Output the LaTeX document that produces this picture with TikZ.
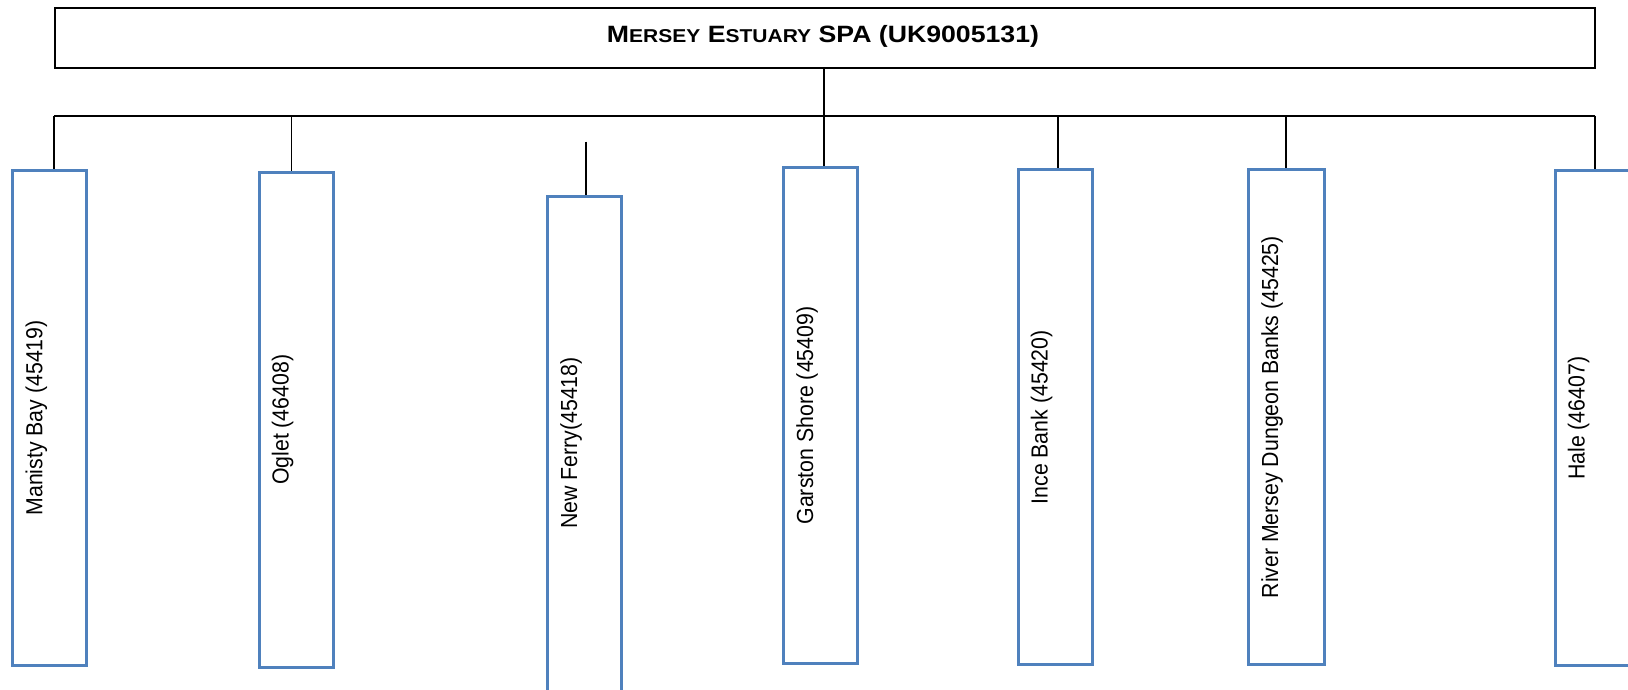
\documentclass[tikz,border=0pt]{standalone}
\usepackage{fontspec}
\setmainfont{Liberation Sans}
\definecolor{siteblue}{RGB}{79,129,189}
\newcommand{\mysmallcap}[1]{{\fontsize{18.6}{20}\selectfont #1}}
\tikzset{
  spabox/.style={draw=black, line width=2pt, inner sep=0pt},
  sitebox/.style={draw=siteblue, line width=3pt, inner sep=0pt, minimum width=74pt, minimum height=495pt},
  lbl/.style={rotate=90, anchor=base, inner sep=0pt, font=\fontsize{21.3}{25}\selectfont},
  conn/.style={draw=black, line width=1.5pt},
  mainbar/.style={draw=black, line width=2pt},
}
\begin{document}
\begin{tikzpicture}[x=1pt,y=-1pt]
\useasboundingbox (0,0) rectangle (1628,690);
% top box
\node[spabox, minimum width=1539.5pt, minimum height=59.5pt] (spa) at (824.75,38.25) {};
\node[anchor=base, inner sep=0pt, font=\fontsize{23.6}{26}\selectfont\bfseries] (title) at (823,42.8)
  {\scalebox{1.13}[1]{M\mysmallcap{ERSEY} E\mysmallcap{STUARY} SPA (UK9005131)}};
% site boxes
\node[sitebox] (m1) at (49.85,417.85) {};
\node[sitebox] (m2) at (296,419.85) {};
\node[sitebox] (m3) at (584,443.6) {};
\node[sitebox] (m4) at (820.5,415.5) {};
\node[sitebox] (m5) at (1055,417.35) {};
\node[sitebox, minimum width=76pt] (m6) at (1286.5,417.2) {};
\node[sitebox] (m7) at (1592,418.35) {};
% labels
\node[lbl] (t1) at (42.4,417.85) {\scalebox{1}[1.09]{Manisty Bay (45419)}};
\node[lbl] (t2) at (288.5,419.85) {\scalebox{1}[1.09]{Oglet (46408)}};
\node[lbl] (t3) at (577,443) {\scalebox{1}[1.09]{New Ferry(45418)}};
\node[lbl] (t4) at (813,415.5) {\scalebox{1}[1.09]{Garston Shore (45409)}};
\node[lbl] (t5) at (1047.6,417.35) {\scalebox{1}[1.09]{Ince Bank (45420)}};
\node[lbl] (t6) at (1278,417.2) {\scalebox{1}[1.09]{River Mersey Dungeon Banks (45425)}};
\node[lbl] (t7) at (1584.5,418.35) {\scalebox{1}[1.09]{Hale (46407)}};
% connectors
\coordinate (j) at (824,115.7);
\coordinate (bl) at (54,115.7);
\coordinate (br) at (1595,115.7);
\coordinate (d2) at (291.7,115.7);
\coordinate (f3) at (586,141.7);
\coordinate (d5) at (1058,115.7);
\coordinate (d6) at (1286,115.7);
\draw[conn] (j |- spa.south) -- (j);
\draw[mainbar] (bl) -- (br);
\draw[conn] (bl) -- (bl |- m1.north);
\draw[conn] (d2) -- (d2 |- m2.north);
\draw[conn] (f3) -- (f3 |- m3.north);
\draw[conn] (j) -- (j |- m4.north);
\draw[conn] (d5) -- (d5 |- m5.north);
\draw[conn] (d6) -- (d6 |- m6.north);
\draw[conn] (br) -- (br |- m7.north);
\end{tikzpicture}
\end{document}
